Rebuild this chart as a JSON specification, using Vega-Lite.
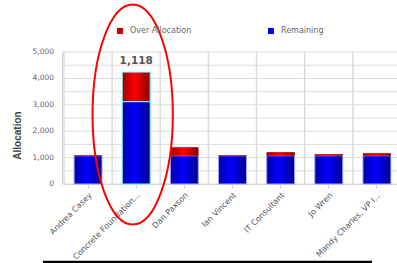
{
  "$schema": "https://vega.github.io/schema/vega-lite/v6.json",
  "width": 335,
  "height": 132,
  "autosize": {"type": "none"},
  "padding": {"left": 62, "top": 52, "right": 0, "bottom": 79},
  "background": "white",
  "config": {
    "view": {"stroke": null},
    "font": "DejaVu Sans",
    "axisY": {
      "tickSize": 4, "tickColor": "#ccc", "ticks": false, "labels": false,
      "domainColor": "#ccc", "labelColor": "#666", "labelFontSize": 7.5, "labelPadding": 4
    },
    "axisX": {
      "labelAngle": -45, "labelFontSize": 8, "labelColor": "#555", "tickSize": 4,
      "tickColor": "#ccc", "domainColor": "#ccc", "labelPadding": 3
    }
  },
  "datasets": {
    "grid": [
      {"g": 0}, {"g": 500}, {"g": 1000}, {"g": 1500}, {"g": 2000}, {"g": 2500},
      {"g": 3000}, {"g": 3500}, {"g": 4000}, {"g": 4500}, {"g": 5000}
    ]
  },
  "data": {
    "values": [
      {"name": "Andrea Casey", "series": "Remaining", "value": 1070},
      {"name": "Andrea Casey", "series": "Over Allocation", "value": 25},
      {"name": "Concrete Foundation...", "series": "Remaining", "value": 3120},
      {"name": "Concrete Foundation...", "series": "Over Allocation", "value": 1118},
      {"name": "Dan Paxson", "series": "Remaining", "value": 1070},
      {"name": "Dan Paxson", "series": "Over Allocation", "value": 315},
      {"name": "Ian Vincent", "series": "Remaining", "value": 1070},
      {"name": "Ian Vincent", "series": "Over Allocation", "value": 25},
      {"name": "IT Consultant", "series": "Remaining", "value": 1070},
      {"name": "IT Consultant", "series": "Over Allocation", "value": 130},
      {"name": "Jo Wren", "series": "Remaining", "value": 1070},
      {"name": "Jo Wren", "series": "Over Allocation", "value": 55},
      {"name": "Mandy Charles, VP I...", "series": "Remaining", "value": 1070},
      {"name": "Mandy Charles, VP I...", "series": "Over Allocation", "value": 90}
    ]
  },
  "transform": [
    {"stack": "value", "groupby": ["name"], "sort": [{"field": "series", "order": "descending"}], "as": ["v0", "v1"]}
  ],
  "layer": [
    {
      "mark": {"type": "bar", "width": {"band": 0.58}},
      "encoding": {
        "x": {
          "field": "name", "type": "nominal", "sort": null,
          "scale": {"range": [2, 339], "paddingInner": 0, "paddingOuter": 0},
          "axis": {"title": null, "grid": false, "labelOverlap": false}
        },
        "y": {
          "field": "v1", "type": "quantitative",
          "scale": {"domain": [0, 5000], "nice": false},
          "axis": {
            "values": [0, 1000, 2000, 3000, 4000, 5000],
            "labelExpr": "format(datum.value, ',')",
            "labels": false, "ticks": false,
            "grid": false,
            "title": "Allocation", "titleFontSize": 10, "titleFont": "Liberation Sans", "titleFontWeight": "bold",
            "titleColor": "#444", "titleX": -45, "titleY": 83, "titleAngle": -90,
            "titleAlign": "center", "titleBaseline": "middle"
          }
        },
        "y2": {"field": "v0"},
        "color": {
          "field": "series", "type": "nominal",
          "scale": {"domain": ["Over Allocation", "Remaining"], "range": ["#cc0000", "#0000ff"]},
          "legend": {
            "orient": "none", "legendX": 54, "legendY": -25, "direction": "horizontal",
            "title": null, "symbolType": "square", "symbolSize": 36, "symbolStrokeWidth": 0,
            "labelFontSize": 8, "labelColor": "#666", "columnPadding": 75, "labelOffset": 6, "padding": 0
          }
        }
      }
    },
    {
      "data": {"name": "grid"},
      "mark": {"type": "rule", "color": "#dcdcdc", "strokeWidth": 1},
      "encoding": {
        "y": {"field": "g", "type": "quantitative"}
      }
    },
    {
      "data": {"name": "grid"},
      "transform": [{"filter": "datum.g % 1000 == 0"}],
      "mark": {"type": "text", "align": "right", "baseline": "middle", "fontSize": 7.5, "color": "#666"},
      "encoding": {
        "x": {"datum": "Andrea Casey", "type": "nominal", "bandPosition": -0.2077},
        "y": {"field": "g", "type": "quantitative"},
        "text": {"field": "g", "type": "quantitative", "format": ","}
      }
    },
    {
      "transform": [{"filter": "datum.series == 'Remaining'"}],
      "mark": {"type": "rule", "color": "#dcdcdc", "strokeWidth": 1.5},
      "encoding": {
        "x": {"field": "name", "type": "nominal", "sort": null, "bandPosition": 0}
      }
    },
    {
      "transform": [{"filter": "datum.series == 'Remaining'"}],
      "mark": {
        "type": "bar", "width": {"band": 0.58}, "strokeWidth": 1,
        "fill": {"gradient": "linear", "x1": 0, "y1": 0, "x2": 1, "y2": 0,
          "stops": [{"offset": 0, "color": "#0000a8"}, {"offset": 0.45, "color": "#0000ff"}, {"offset": 1, "color": "#00008c"}]}
      },
      "encoding": {
        "x": {"field": "name", "type": "nominal", "sort": null},
        "y": {"field": "v1", "type": "quantitative"},
        "y2": {"field": "v0"},
        "stroke": {"condition": {"test": "datum.name == 'Concrete Foundation...'", "value": "#77ffff"}, "value": "#a8a8ff"}
      }
    },
    {
      "transform": [{"filter": "datum.series == 'Over Allocation'"}],
      "mark": {
        "type": "bar", "width": {"band": 0.58}, "strokeWidth": 1,
        "fill": {"gradient": "linear", "x1": 0, "y1": 0, "x2": 1, "y2": 0,
          "stops": [{"offset": 0, "color": "#a00000"}, {"offset": 0.45, "color": "#ff0000"}, {"offset": 1, "color": "#880000"}]}
      },
      "encoding": {
        "x": {"field": "name", "type": "nominal", "sort": null},
        "y": {"field": "v1", "type": "quantitative"},
        "y2": {"field": "v0"},
        "stroke": {"condition": {"test": "datum.name == 'Concrete Foundation...'", "value": "#77ffff"}, "value": "#cc3333"},
        "strokeOpacity": {"condition": {"test": "datum.name == 'Concrete Foundation...'", "value": 1}, "value": 0}
      }
    },
    {
      "transform": [{"filter": "datum.name == 'Concrete Foundation...' && datum.series == 'Over Allocation'"}],
      "mark": {"type": "text", "baseline": "bottom", "dy": -6, "fontSize": 10.5, "fontWeight": "bold", "color": "#555"},
      "encoding": {
        "x": {"field": "name", "type": "nominal", "sort": null},
        "y": {"field": "v1", "type": "quantitative"},
        "text": {"field": "value", "type": "quantitative", "format": ","}
      }
    },
    {
      "transform": [{"filter": "datum.name == 'Concrete Foundation...' && datum.series == 'Remaining'"}],
      "mark": {"type": "point", "shape": "M -0.397 0.117 A 0.365 1 0 1 0 0.333 0.117 A 0.365 1 0 1 0 -0.397 0.117 Z",
        "size": 48400, "filled": false, "stroke": "#ff0000", "strokeWidth": 2, "opacity": 1},
      "encoding": {
        "x": {"field": "name", "type": "nominal", "sort": null},
        "y": {"field": "v1", "type": "quantitative"}
      }
    },
    {
      "transform": [{"filter": "datum.name == 'Andrea Casey' && datum.series == 'Remaining'"}],
      "mark": {"type": "point", "shape": "M -0.1502 0.26 L 0.9465 0.26",
        "size": 360000, "filled": false, "stroke": "#000000", "strokeWidth": 2.6, "opacity": 1},
      "encoding": {
        "x": {"field": "name", "type": "nominal", "sort": null},
        "y": {"field": "v0", "type": "quantitative"}
      }
    }
  ]
}
